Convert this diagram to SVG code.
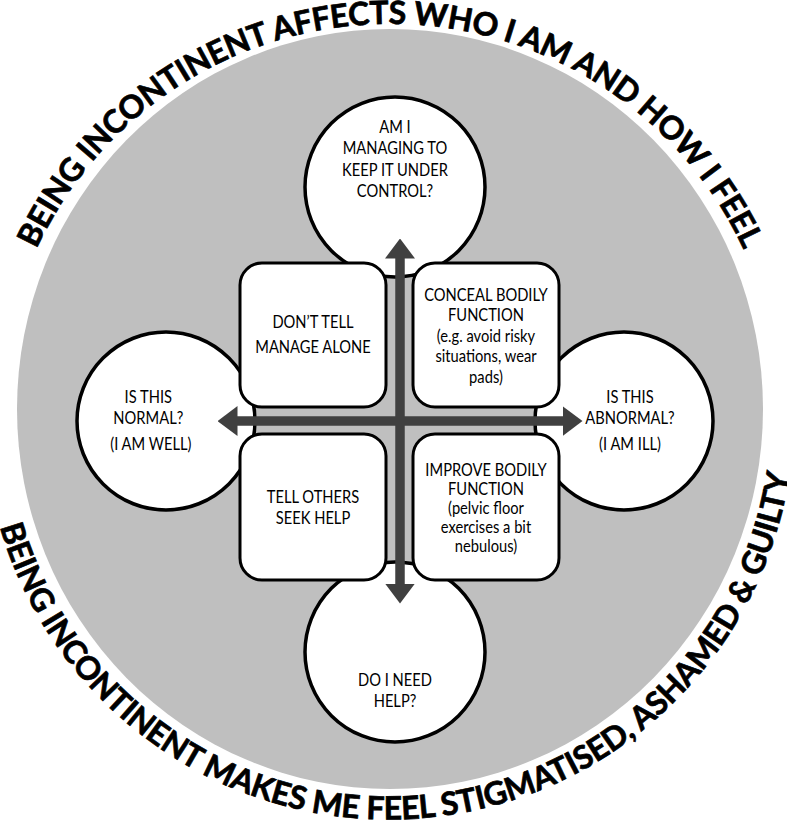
<svg xmlns="http://www.w3.org/2000/svg" width="787" height="824" viewBox="0 0 787 824">
  <style>
    .bg { fill: #bfbfbf; }
    .circ { fill: #ffffff; stroke: #000000; stroke-width: 3.5; }
    .box { fill: #ffffff; stroke: #000000; stroke-width: 3; }
    .t { font-family: Lato, "Liberation Sans", sans-serif; font-size: 17.5px; fill: #000000; text-anchor: middle; }
    .arc { font-family: Lato, "Liberation Sans", sans-serif; font-size: 32px; font-weight: bold; fill: #000000; stroke: #000000; stroke-width: 0.7; }
    .arrow { stroke: #404040; stroke-width: 9.5; fill: none; }
  </style>
  <defs>
    <marker id="head" markerUnits="userSpaceOnUse" markerWidth="20" markerHeight="30" viewBox="0 0 20 30" refX="0.5" refY="15" orient="auto-start-reverse">
      <path d="M0,0 L20,15 L0,30 Z" fill="#404040"/>
    </marker>
    <path id="topArc" d="M 13.3 312.9 A 390 390 0 0 1 766.7 312.9"/>
    <path id="botArc" d="M -14.5 449.3 A 405 405 0 0 0 794 414"/>
  </defs>

  <ellipse class="bg" cx="390" cy="409" rx="373" ry="380"/>

  <g id="title-top">
    <text class="arc" letter-spacing="-0.3"><textPath href="#topArc" startOffset="510.5" text-anchor="middle">BEING INCONTINENT AFFECTS WHO I AM AND HOW I FEEL</textPath></text>
  </g>
  <g id="title-bottom">
    <text class="arc" letter-spacing="-0.3"><textPath href="#botArc" startOffset="628" text-anchor="middle">BEING INCONTINENT MAKES ME FEEL STIGMATISED, ASHAMED &amp; GUILTY</textPath></text>
  </g>

  <g id="node-top">
    <circle class="circ" cx="395" cy="187" r="90"/>
    <g transform="translate(395 0) scale(0.84 1) translate(-395 0)">
      <text class="t" x="395" y="133">AM I</text>
      <text class="t" x="395" y="154.5">MANAGING TO</text>
      <text class="t" x="395" y="176">KEEP IT UNDER</text>
      <text class="t" x="395" y="197.5">CONTROL?</text>
    </g>
  </g>
  <g id="node-left">
    <circle class="circ" cx="166" cy="421" r="89"/>
    <g transform="translate(150 0) scale(0.84 1) translate(-150 0)">
      <text class="t" x="148" y="403">IS THIS</text>
      <text class="t" x="148" y="424">NORMAL?</text>
      <text class="t" x="151" y="450">(I AM WELL)</text>
    </g>
  </g>
  <g id="node-right">
    <circle class="circ" cx="624" cy="421" r="89"/>
    <g transform="translate(630 0) scale(0.84 1) translate(-630 0)">
      <text class="t" x="630" y="403">IS THIS</text>
      <text class="t" x="630" y="424">ABNORMAL?</text>
      <text class="t" x="630" y="450">(I AM ILL)</text>
    </g>
  </g>
  <g id="node-bottom">
    <circle class="circ" cx="395" cy="652" r="90"/>
    <g transform="translate(395 0) scale(0.84 1) translate(-395 0)">
      <text class="t" x="395" y="686">DO I NEED</text>
      <text class="t" x="395" y="707">HELP?</text>
    </g>
  </g>

  <g id="box-dont-tell">
    <rect class="box" x="240" y="263" width="146" height="144" rx="22"/>
    <g transform="translate(313 0) scale(0.84 1) translate(-313 0)">
      <text class="t" x="313" y="328">DON’T TELL</text>
      <text class="t" x="313" y="353">MANAGE ALONE</text>
    </g>
  </g>
  <g id="box-conceal">
    <rect class="box" x="413" y="263" width="146" height="144" rx="22"/>
    <g transform="translate(486 0) scale(0.84 1) translate(-486 0)">
      <text class="t" x="486" y="301">CONCEAL BODILY</text>
      <text class="t" x="486" y="321.5">FUNCTION</text>
      <text class="t" x="486" y="342">(e.g. avoid risky</text>
      <text class="t" x="486" y="362.5">situations, wear</text>
      <text class="t" x="486" y="383">pads)</text>
    </g>
  </g>
  <g id="box-tell-others">
    <rect class="box" x="240" y="434" width="146" height="146" rx="22"/>
    <g transform="translate(313 0) scale(0.84 1) translate(-313 0)">
      <text class="t" x="313" y="503">TELL OTHERS</text>
      <text class="t" x="313" y="524">SEEK HELP</text>
    </g>
  </g>
  <g id="box-improve">
    <rect class="box" x="413" y="434" width="146" height="146" rx="22"/>
    <g transform="translate(486 0) scale(0.84 1) translate(-486 0)">
      <text class="t" x="486" y="476">IMPROVE BODILY</text>
      <text class="t" x="486" y="495">FUNCTION</text>
      <text class="t" x="486" y="514">(pelvic floor</text>
      <text class="t" x="486" y="533">exercises a bit</text>
      <text class="t" x="486" y="552">nebulous)</text>
    </g>
  </g>

  <g id="connectors">
    <line class="arrow" x1="400" y1="258" x2="400" y2="584" marker-start="url(#head)" marker-end="url(#head)"/>
    <line class="arrow" x1="237" y1="421" x2="563" y2="421" marker-start="url(#head)" marker-end="url(#head)"/>
  </g>
</svg>
